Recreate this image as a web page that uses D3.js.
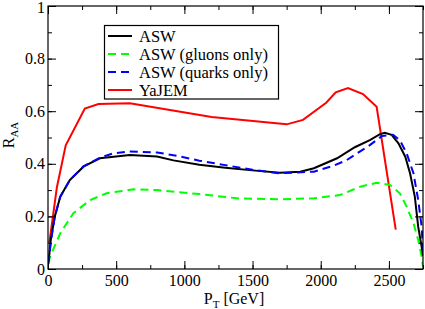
<!DOCTYPE html>
<html><head><meta charset="utf-8">
<script src="https://cdn.jsdelivr.net/npm/d3@7/dist/d3.min.js"></script>
<style>
html,body{margin:0;padding:0;background:#fff;}
svg text{font-family:"Liberation Serif","Tinos","Times New Roman","DejaVu Serif",serif !important;}
</style></head>
<body>
<script>
// ---- data (pT in GeV, R_AA) ----
const seriesNames = ["ASW", "ASW (gluons only)", "ASW (quarks only)", "YaJEM"];
const seriesColors = ["#000000", "#00ff00", "#0000ff", "#ff0000"];
const seriesDash = [null, "8,5", "8,5", null];

const aswPt  = [5, 20, 50, 90, 160, 260, 380, 600, 800, 920, 1110, 1300, 1500, 1700, 1850, 1950, 2120, 2250, 2360, 2435, 2470, 2520, 2570, 2620, 2655, 2690, 2715, 2740, 2750];
const aswR   = [0.03, 0.11, 0.2, 0.275, 0.338, 0.389, 0.421, 0.433, 0.428, 0.413, 0.396, 0.385, 0.375, 0.366, 0.37, 0.383, 0.421, 0.463, 0.49, 0.513, 0.518, 0.51, 0.478, 0.427, 0.364, 0.275, 0.16, 0.085, 0.05];

const gluPt  = [3, 15, 90, 186, 308, 430, 625, 800, 1110, 1400, 1700, 1950, 2140, 2290, 2410, 2510, 2580, 2630, 2680, 2715, 2740, 2750];
const gluR   = [0.02, 0.047, 0.136, 0.212, 0.262, 0.288, 0.303, 0.3, 0.285, 0.268, 0.265, 0.269, 0.281, 0.313, 0.328, 0.319, 0.288, 0.237, 0.174, 0.11, 0.047, 0.01];

const quaPt  = [3, 20, 50, 90, 160, 260, 380, 480, 600, 800, 950, 1110, 1300, 1500, 1700, 1950, 2090, 2190, 2360, 2450, 2530, 2580, 2630, 2680, 2715, 2740, 2752];
const quaR   = [0.02, 0.1, 0.2, 0.275, 0.338, 0.39, 0.423, 0.44, 0.447, 0.443, 0.43, 0.412, 0.395, 0.377, 0.364, 0.37, 0.392, 0.414, 0.471, 0.506, 0.51, 0.49, 0.44, 0.364, 0.262, 0.161, 0.05];

const yajPt  = [10, 65, 130, 270, 370, 600, 1200, 1750, 1870, 2040, 2110, 2200, 2310, 2410, 2550];
const yajR   = [0.10, 0.31, 0.47, 0.61, 0.627, 0.63, 0.578, 0.55, 0.567, 0.632, 0.672, 0.688, 0.665, 0.617, 0.15];

const xTicks = [0, 500, 1000, 1500, 2000, 2500];
const yTicks = [0, 0.2, 0.4, 0.6, 0.8, 1];
const yTickLabels = ["0", "0.2", "0.4", "0.6", "0.8", "1"];

const series = [
  {pt: aswPt, r: aswR}, {pt: gluPt, r: gluR}, {pt: quaPt, r: quaR}, {pt: yajPt, r: yajR}
];

// ---- layout ----
const W = 425, H = 309;
const L = 48, R = 423, T = 6, B = 269;
const x = d3.scaleLinear().domain([0, 2750]).range([L, R]);
const y = d3.scaleLinear().domain([0, 1]).range([B, T]);

const svg = d3.select("body").append("svg").attr("width", W).attr("height", H).style("display","block");

svg.append("clipPath").attr("id","clip").append("rect")
  .attr("x", L).attr("y", T).attr("width", R-L).attr("height", B-T);

// curves
const line = d3.line().x(d => x(d[0])).y(d => y(d[1]));
const drawOrder = [3, 1, 0, 2];
drawOrder.forEach(i => {
  const s = series[i];
  const pts = s.pt.map((p, k) => [p, s.r[k]]);
  svg.append("path").attr("d", line(pts))
    .attr("fill", "none").attr("stroke", seriesColors[i])
    .attr("stroke-width", 2).attr("stroke-dasharray", seriesDash[i])
    .attr("clip-path", "url(#clip)");
});

// axes: inward ticks, mirrored
const xMinor = d3.range(0, 2751, 250);
const yMinor = d3.range(0, 1.001, 0.1);
function axisTicks(g, axis) { g.call(axis); g.select(".domain").remove(); g.selectAll("line").attr("stroke", "#000"); }

svg.append("g").attr("transform", `translate(0,${B})`)
  .call(g => axisTicks(g, d3.axisBottom(x).tickValues(xMinor).tickSize(-4).tickFormat("")));
svg.append("g").attr("transform", `translate(0,${B})`)
  .call(g => axisTicks(g, d3.axisBottom(x).tickValues(xTicks).tickSize(-8).tickPadding(6).tickFormat(d3.format("d"))))
  .call(g => g.selectAll("text").attr("font-size", 16).attr("fill","#000"));
svg.append("g").attr("transform", `translate(0,${T})`)
  .call(g => axisTicks(g, d3.axisTop(x).tickValues(xMinor).tickSize(-4).tickFormat("")));
svg.append("g").attr("transform", `translate(0,${T})`)
  .call(g => axisTicks(g, d3.axisTop(x).tickValues(xTicks).tickSize(-8).tickFormat("")));

svg.append("g").attr("transform", `translate(${L},0)`)
  .call(g => axisTicks(g, d3.axisLeft(y).tickValues(yMinor).tickSize(-4).tickFormat("")));
svg.append("g").attr("transform", `translate(${L},0)`)
  .call(g => axisTicks(g, d3.axisLeft(y).tickValues(yTicks).tickSize(-8).tickPadding(3).tickFormat((d,i) => yTickLabels[i])))
  .call(g => g.selectAll("text").attr("font-size", 16).attr("fill","#000"))
  .call(g => g.selectAll(".tick").filter(d => d === 1).select("text").attr("dy", "0.42em"));
svg.append("g").attr("transform", `translate(${R},0)`)
  .call(g => axisTicks(g, d3.axisRight(y).tickValues(yMinor).tickSize(-4).tickFormat("")));
svg.append("g").attr("transform", `translate(${R},0)`)
  .call(g => axisTicks(g, d3.axisRight(y).tickValues(yTicks).tickSize(-8).tickFormat("")));

// frame
svg.append("rect").attr("x", L).attr("y", T).attr("width", R-L).attr("height", B-T)
  .attr("fill", "none").attr("stroke", "#000").attr("stroke-width", 1.2);

// axis titles
const xt = svg.append("text").attr("x", 234).attr("y", 304).attr("text-anchor", "middle").attr("font-size", 16);
xt.append("tspan").text("P");
xt.append("tspan").attr("font-size", 11).attr("dy", 4).text("T");
xt.append("tspan").attr("dy", -4).text(" [GeV]");

const yt = svg.append("text").attr("transform", "translate(14,135) rotate(-90)").attr("text-anchor", "middle").attr("font-size", 16);
yt.append("tspan").text("R");
yt.append("tspan").attr("font-size", 11).attr("dy", 4).text("AA");

// legend
const lg = svg.append("g");
lg.append("rect").attr("x", 104.5).attr("y", 25.5).attr("width", 174).attr("height", 73.5)
  .attr("fill", "#fff").attr("stroke", "#000").attr("stroke-width", 1.2);
const rowY = [36, 54, 72, 90];
seriesNames.forEach((n, i) => {
  lg.append("line").attr("x1", 108).attr("x2", 132).attr("y1", rowY[i]).attr("y2", rowY[i])
    .attr("stroke", seriesColors[i]).attr("stroke-width", 2).attr("stroke-dasharray", seriesDash[i]);
  lg.append("text").attr("x", 139).attr("y", rowY[i] + 5.5).attr("font-size", 16.5).text(n);
});
</script>
</body></html>
